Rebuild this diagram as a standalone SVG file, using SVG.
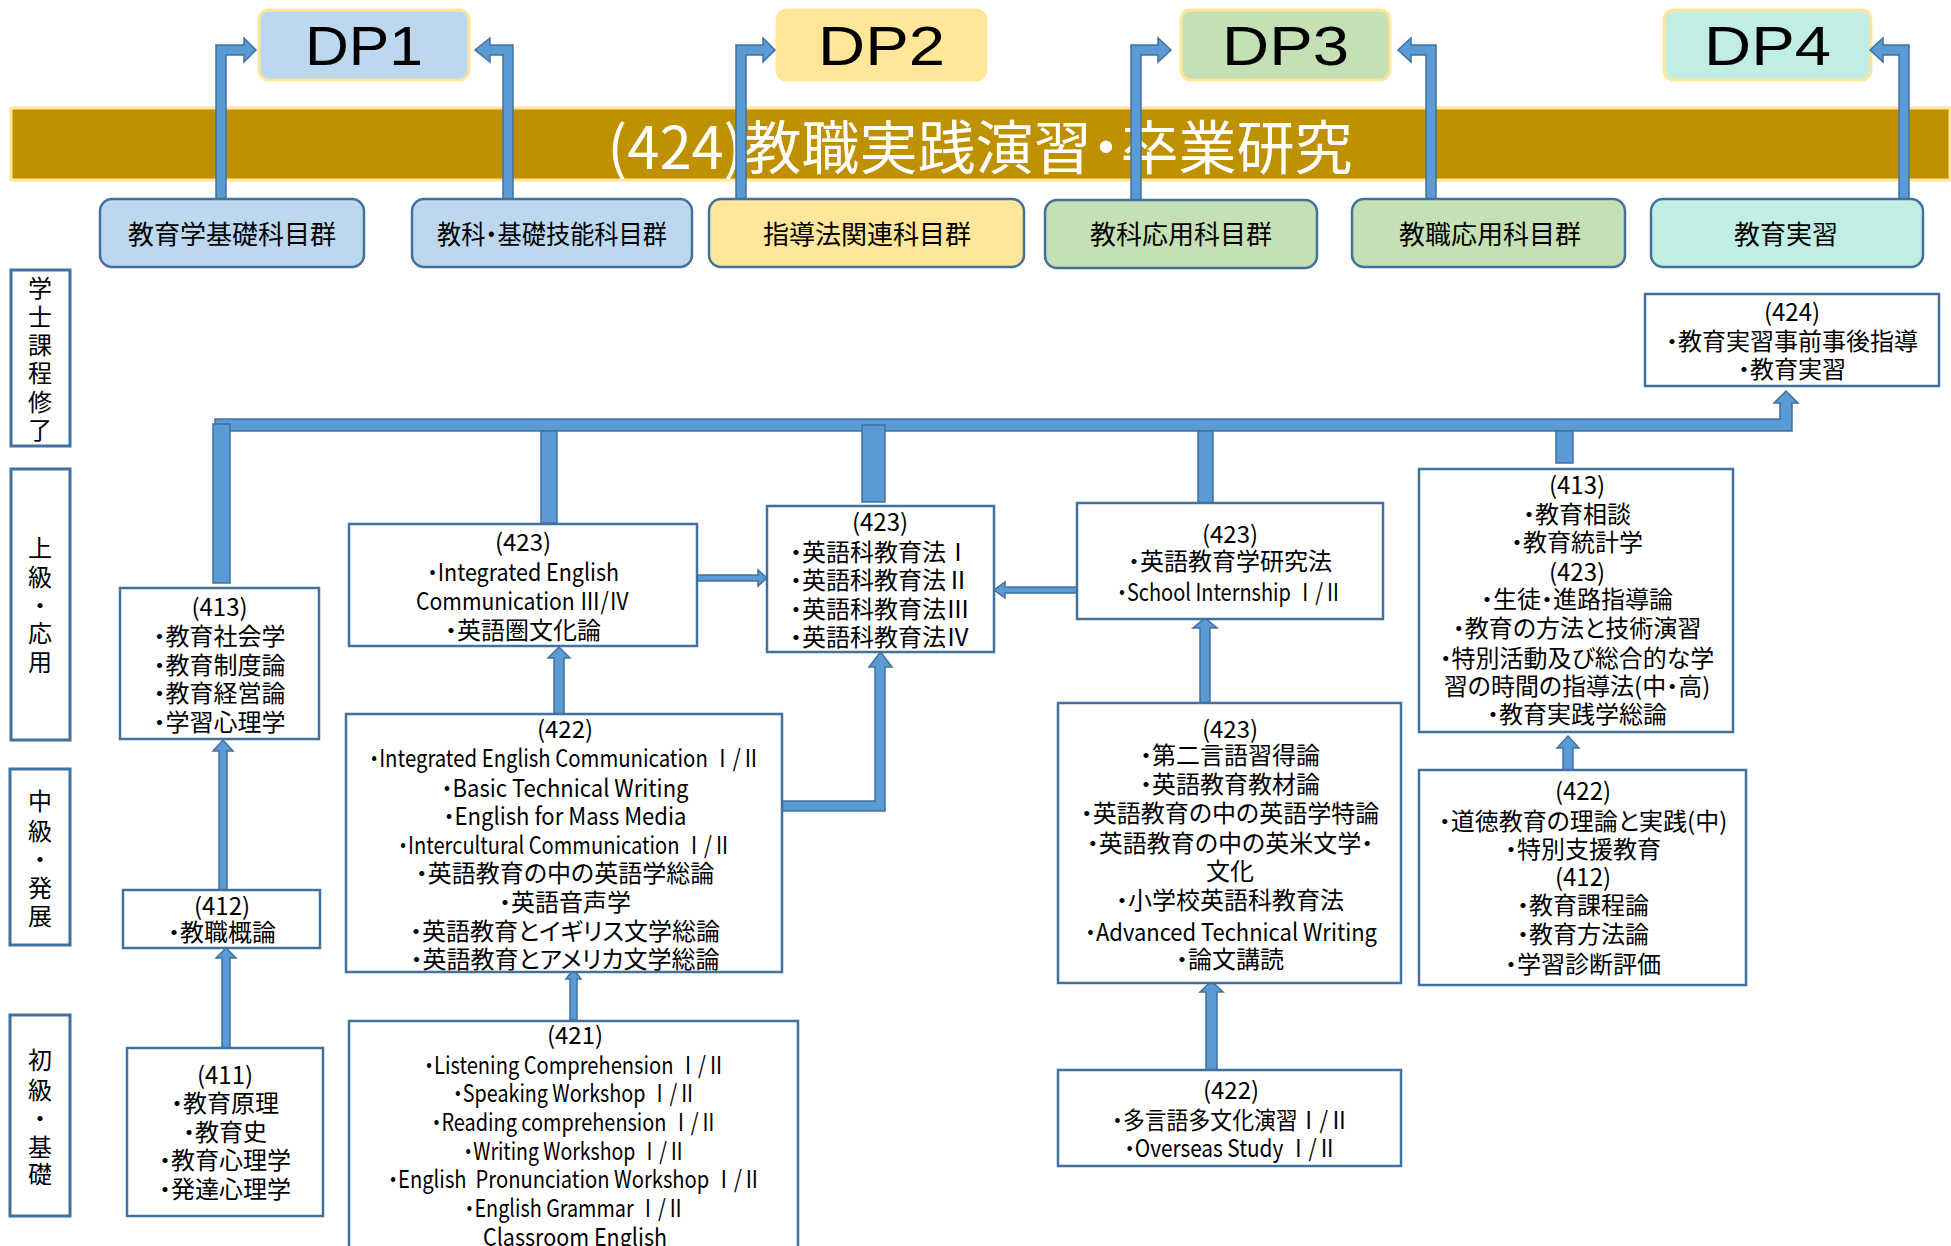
<svg xmlns="http://www.w3.org/2000/svg" width="1951" height="1246" viewBox="0 0 1951 1246">
<style>
.t{font-family:"Noto Sans CJK JP","Noto Sans",sans-serif;font-size:24px;text-anchor:middle;dominant-baseline:central;fill:#000;font-feature-settings:"palt" 1;transform:translateY(-3px)}
.cat{font-family:"Noto Sans CJK JP",sans-serif;font-size:26px;text-anchor:middle;dominant-baseline:central;fill:#000;font-feature-settings:"palt" 1;transform:translateY(-2px)}
.dp{font-family:"Liberation Sans",Arial,sans-serif;font-size:56px;text-anchor:middle;fill:#000}
.box{fill:#fff;stroke:#41719C;stroke-width:2.5}
.lbl{fill:#fff;stroke:#41719C;stroke-width:3}
.arr{fill:#5B9BD5;stroke:#41719C;stroke-width:1.5;stroke-linejoin:miter}
.dpb{stroke:#FFE699;stroke-width:3}
.cb{stroke:#41719C;stroke-width:2.5}
.vl{font-family:"Noto Sans CJK JP",sans-serif;font-size:24px;text-anchor:middle;dominant-baseline:central;fill:#000;transform:translateY(-2px)}
</style>
<rect width="1951" height="1246" fill="#fff"/>

<g id="dp1"><rect class="dpb" x="259" y="10" width="210" height="70" rx="10" fill="#BDD7EE"/><text class="dp" x="364" y="65" textLength="118" lengthAdjust="spacingAndGlyphs">DP1</text></g>
<g id="dp2"><rect class="dpb" x="777" y="10" width="209" height="70" rx="10" fill="#FFE699"/><text class="dp" x="881.5" y="65" textLength="127" lengthAdjust="spacingAndGlyphs">DP2</text></g>
<g id="dp3"><rect class="dpb" x="1181" y="10" width="209" height="70" rx="10" fill="#C5E0B4"/><text class="dp" x="1285.5" y="65" textLength="127" lengthAdjust="spacingAndGlyphs">DP3</text></g>
<g id="dp4"><rect class="dpb" x="1664" y="10" width="207" height="70" rx="10" fill="#C0EEE4"/><text class="dp" x="1767.5" y="65" textLength="127" lengthAdjust="spacingAndGlyphs">DP4</text></g>

<g id="banner"><rect x="11" y="108" width="1939" height="72" fill="#BF9000" stroke="#FFE699" stroke-width="3"/><text x="980" y="144" font-family="Noto Sans CJK JP, sans-serif" font-size="58" fill="#fff" text-anchor="middle" dominant-baseline="central" style="font-feature-settings:'palt' 1">(424)教職実践演習・卒業研究</text></g>

<g id="dp-connectors">
<path class="arr" d="M216,199 V45 H244 V38 L256,50 L244,62 V55 H226 V199 Z"/>
<path class="arr" d="M513,199 V45 H490 V38 L475,50 L490,62 V55 H503 V199 Z"/>
<path class="arr" d="M736,199 V45 H763 V38 L775,50 L763,62 V55 H746 V199 Z"/>
<path class="arr" d="M1131,200 V45 H1158 V38 L1171,50 L1158,62 V55 H1141 V200 Z"/>
<path class="arr" d="M1436,199 V45 H1411 V38 L1398,50 L1411,62 V55 H1426 V199 Z"/>
<path class="arr" d="M1909,199 V45 H1883 V38 L1870,50 L1883,62 V55 H1899 V199 Z"/>
</g>

<g id="cat1"><rect class="cb" x="100" y="199" width="264" height="68" rx="12" fill="#BDD7EE"/><text class="cat" x="232" y="234">教育学基礎科目群</text></g>
<g id="cat2"><rect class="cb" x="412" y="199" width="280" height="68" rx="12" fill="#BDD7EE"/><text class="cat" x="552" y="234" textLength="230" lengthAdjust="spacingAndGlyphs">教科・基礎技能科目群</text></g>
<g id="cat3"><rect class="cb" x="709" y="199" width="315" height="68" rx="12" fill="#FFE699"/><text class="cat" x="867" y="234">指導法関連科目群</text></g>
<g id="cat4"><rect class="cb" x="1045" y="200" width="272" height="68" rx="12" fill="#C5E0B4"/><text class="cat" x="1181" y="234">教科応用科目群</text></g>
<g id="cat5"><rect class="cb" x="1352" y="199" width="273" height="68" rx="12" fill="#C5E0B4"/><text class="cat" x="1490" y="234">教職応用科目群</text></g>
<g id="cat6"><rect class="cb" x="1651" y="199" width="272" height="68" rx="12" fill="#C0EEE4"/><text class="cat" x="1786" y="234">教育実習</text></g>

<g id="lvl-complete"><rect class="lbl" x="11" y="270" width="59" height="176"/><text class="vl"><tspan x="40" y="288">学</tspan><tspan x="40" y="317">士</tspan><tspan x="40" y="345">課</tspan><tspan x="40" y="373">程</tspan><tspan x="40" y="402">修</tspan><tspan x="40" y="430">了</tspan></text></g>
<g id="lvl-advanced"><rect class="lbl" x="11" y="469" width="59" height="271"/><text class="vl"><tspan x="40" y="548">上</tspan><tspan x="40" y="577">級</tspan><tspan x="40" y="605">・</tspan><tspan x="40" y="633">応</tspan><tspan x="40" y="662">用</tspan></text></g>
<g id="lvl-intermediate"><rect class="lbl" x="10" y="769" width="60" height="176"/><text class="vl"><tspan x="40" y="801">中</tspan><tspan x="40" y="831">級</tspan><tspan x="40" y="859">・</tspan><tspan x="40" y="888">発</tspan><tspan x="40" y="916">展</tspan></text></g>
<g id="lvl-basic"><rect class="lbl" x="10" y="1015" width="60" height="201"/><text class="vl"><tspan x="40" y="1060">初</tspan><tspan x="40" y="1090">級</tspan><tspan x="40" y="1118">・</tspan><tspan x="40" y="1147">基</tspan><tspan x="40" y="1174">礎</tspan></text></g>

<g id="connectors">
<path class="arr" d="M215,419 H1780 V403 H1774 L1786,391 L1798,403 H1792 V431 H215 Z"/>
<rect class="arr" x="213" y="424" width="17" height="159"/>
<rect class="arr" x="541" y="431" width="16" height="92"/>
<rect class="arr" x="862" y="425" width="23" height="77"/>
<rect class="arr" x="1198" y="431" width="15" height="72"/>
<rect class="arr" x="1556" y="431" width="17" height="32"/>
<path class="arr" d="M219,890 V751 H213 L223,740 L233,751 H227 V890 Z"/>
<path class="arr" d="M222,1048 V958 H216 L226,948 L236,958 H230 V1048 Z"/>
<path class="arr" d="M554,714 V658 H548 L559,647 L570,658 H564 V714 Z"/>
<path class="arr" d="M570,1020 V979 H566 L573.5,969 L581,979 H577 V1020 Z"/>
<path class="arr" d="M1200,703 V628 H1193 L1205,618 L1217,628 H1210 V703 Z"/>
<path class="arr" d="M1206,1070 V992 H1200 L1211.5,981 L1223,992 H1217 V1070 Z"/>
<path class="arr" d="M1563,770 V748 H1557 L1568,736 L1579,748 H1573 V770 Z"/>
<path class="arr" d="M782,801 H875 V667 H869 L880.5,652 L892,667 H885 V811 H782 Z"/>
<path class="arr" d="M697,575 H758 V570 L767,578 L758,586 V581 H697 Z"/>
<path class="arr" d="M1077,587 H1005 V582 L994,590 L1005,598 V593 H1077 Z"/>
</g>

<g id="c424"><rect class="box" x="1645" y="294" width="294" height="92"/><text class="t"><tspan x="1792" y="313">(424)</tspan><tspan x="1792" y="342">・教育実習事前事後指導</tspan><tspan x="1792" y="370">・教育実習</tspan></text></g>

<g id="c413a"><rect class="box" x="120" y="588" width="199" height="151"/><text class="t"><tspan x="219.5" y="608">(413)</tspan><tspan x="219.5" y="637">・教育社会学</tspan><tspan x="219.5" y="666">・教育制度論</tspan><tspan x="219.5" y="694">・教育経営論</tspan><tspan x="219.5" y="723">・学習心理学</tspan></text></g>

<g id="c423a"><rect class="box" x="349" y="524" width="348" height="122"/>
<text class="t" x="523" y="543">(423)</text>
<text class="t" x="523" y="573" textLength="192" lengthAdjust="spacingAndGlyphs">・Integrated English</text>
<text class="t" x="523" y="602" textLength="214" lengthAdjust="spacingAndGlyphs">Communication Ⅲ/Ⅳ</text>
<text class="t" x="523" y="631">・英語圏文化論</text></g>

<g id="c423b"><rect class="box" x="767" y="506" width="227" height="146"/><text class="t"><tspan x="880" y="523">(423)</tspan><tspan x="880" y="553">・英語科教育法Ⅰ</tspan><tspan x="880" y="581">・英語科教育法Ⅱ</tspan><tspan x="880" y="610">・英語科教育法Ⅲ</tspan><tspan x="880" y="638">・英語科教育法Ⅳ</tspan></text></g>

<g id="c423c"><rect class="box" x="1077" y="503" width="306" height="116"/>
<text class="t" x="1230" y="535">(423)</text>
<text class="t" x="1230" y="562">・英語教育学研究法</text>
<text class="t" x="1230" y="593" textLength="226" lengthAdjust="spacingAndGlyphs">・School Internship Ⅰ/Ⅱ</text></g>

<g id="c413b"><rect class="box" x="1419" y="469" width="314" height="263"/><text class="t"><tspan x="1577" y="486">(413)</tspan><tspan x="1577" y="515">・教育相談</tspan><tspan x="1577" y="543">・教育統計学</tspan><tspan x="1577" y="573">(423)</tspan><tspan x="1577" y="600">・生徒・進路指導論</tspan><tspan x="1577" y="629">・教育の方法と技術演習</tspan><tspan x="1577" y="659">・特別活動及び総合的な学</tspan><tspan x="1577" y="687">習の時間の指導法(中・高)</tspan><tspan x="1577" y="715">・教育実践学総論</tspan></text></g>

<g id="c422a"><rect class="box" x="346" y="714" width="436" height="258"/>
<text class="t" x="565" y="730">(422)</text>
<text class="t" x="565" y="759" textLength="392" lengthAdjust="spacingAndGlyphs">・Integrated English Communication Ⅰ/Ⅱ</text>
<text class="t" x="565" y="789" textLength="247" lengthAdjust="spacingAndGlyphs">・Basic Technical Writing</text>
<text class="t" x="565" y="817" textLength="243" lengthAdjust="spacingAndGlyphs">・English for Mass Media</text>
<text class="t" x="565" y="846" textLength="334" lengthAdjust="spacingAndGlyphs">・Intercultural Communication Ⅰ/Ⅱ</text>
<text class="t" x="565" y="874">・英語教育の中の英語学総論</text>
<text class="t" x="565" y="903">・英語音声学</text>
<text class="t" x="565" y="932">・英語教育とイギリス文学総論</text>
<text class="t" x="565" y="960">・英語教育とアメリカ文学総論</text></g>

<g id="c412"><rect class="box" x="123" y="890" width="197" height="58"/><text class="t"><tspan x="222" y="907">(412)</tspan><tspan x="222" y="933">・教職概論</tspan></text></g>

<g id="c411"><rect class="box" x="127" y="1048" width="196" height="168"/><text class="t"><tspan x="225" y="1076">(411)</tspan><tspan x="225" y="1104">・教育原理</tspan><tspan x="225" y="1133">・教育史</tspan><tspan x="225" y="1161">・教育心理学</tspan><tspan x="225" y="1190">・発達心理学</tspan></text></g>

<g id="c421"><rect class="box" x="349" y="1021" width="449" height="245"/>
<text class="t" x="575" y="1036">(421)</text>
<text class="t" x="575" y="1066" textLength="302" lengthAdjust="spacingAndGlyphs">・Listening Comprehension Ⅰ/Ⅱ</text>
<text class="t" x="575" y="1094" textLength="244" lengthAdjust="spacingAndGlyphs">・Speaking Workshop Ⅰ/Ⅱ</text>
<text class="t" x="575" y="1123" textLength="287" lengthAdjust="spacingAndGlyphs">・Reading comprehension Ⅰ/Ⅱ</text>
<text class="t" x="575" y="1152" textLength="223" lengthAdjust="spacingAndGlyphs">・Writing Workshop Ⅰ/Ⅱ</text>
<text class="t" x="575" y="1180" textLength="374" lengthAdjust="spacingAndGlyphs" xml:space="preserve">・English  Pronunciation Workshop Ⅰ/Ⅱ</text>
<text class="t" x="575" y="1209" textLength="221" lengthAdjust="spacingAndGlyphs">・English Grammar Ⅰ/Ⅱ</text>
<text class="t" x="575" y="1238" textLength="184" lengthAdjust="spacingAndGlyphs">Classroom English</text></g>

<g id="c423d"><rect class="box" x="1058" y="703" width="343" height="280"/>
<text class="t" x="1230" y="730">(423)</text>
<text class="t" x="1230" y="756">・第二言語習得論</text>
<text class="t" x="1230" y="785">・英語教育教材論</text>
<text class="t" x="1230" y="814">・英語教育の中の英語学特論</text>
<text class="t" x="1230" y="844">・英語教育の中の英米文学・</text>
<text class="t" x="1230" y="872">文化</text>
<text class="t" x="1230" y="901">・小学校英語科教育法</text>
<text class="t" x="1231" y="933" textLength="292" lengthAdjust="spacingAndGlyphs">・Advanced Technical Writing</text>
<text class="t" x="1230" y="960">・論文講読</text></g>

<g id="c422b"><rect class="box" x="1419" y="770" width="327" height="215"/><text class="t"><tspan x="1583" y="792">(422)</tspan><tspan x="1583" y="822">・道徳教育の理論と実践(中)</tspan><tspan x="1583" y="850">・特別支援教育</tspan><tspan x="1583" y="878">(412)</tspan><tspan x="1583" y="906">・教育課程論</tspan><tspan x="1583" y="935">・教育方法論</tspan><tspan x="1583" y="965">・学習診断評価</tspan></text></g>

<g id="c422c"><rect class="box" x="1058" y="1070" width="343" height="96"/>
<text class="t" x="1231" y="1091">(422)</text>
<text class="t" x="1231" y="1121" textLength="238" lengthAdjust="spacingAndGlyphs">・多言語多文化演習Ⅰ/Ⅱ</text>
<text class="t" x="1231" y="1149" textLength="213" lengthAdjust="spacingAndGlyphs">・Overseas Study Ⅰ/Ⅱ</text></g>
</svg>
